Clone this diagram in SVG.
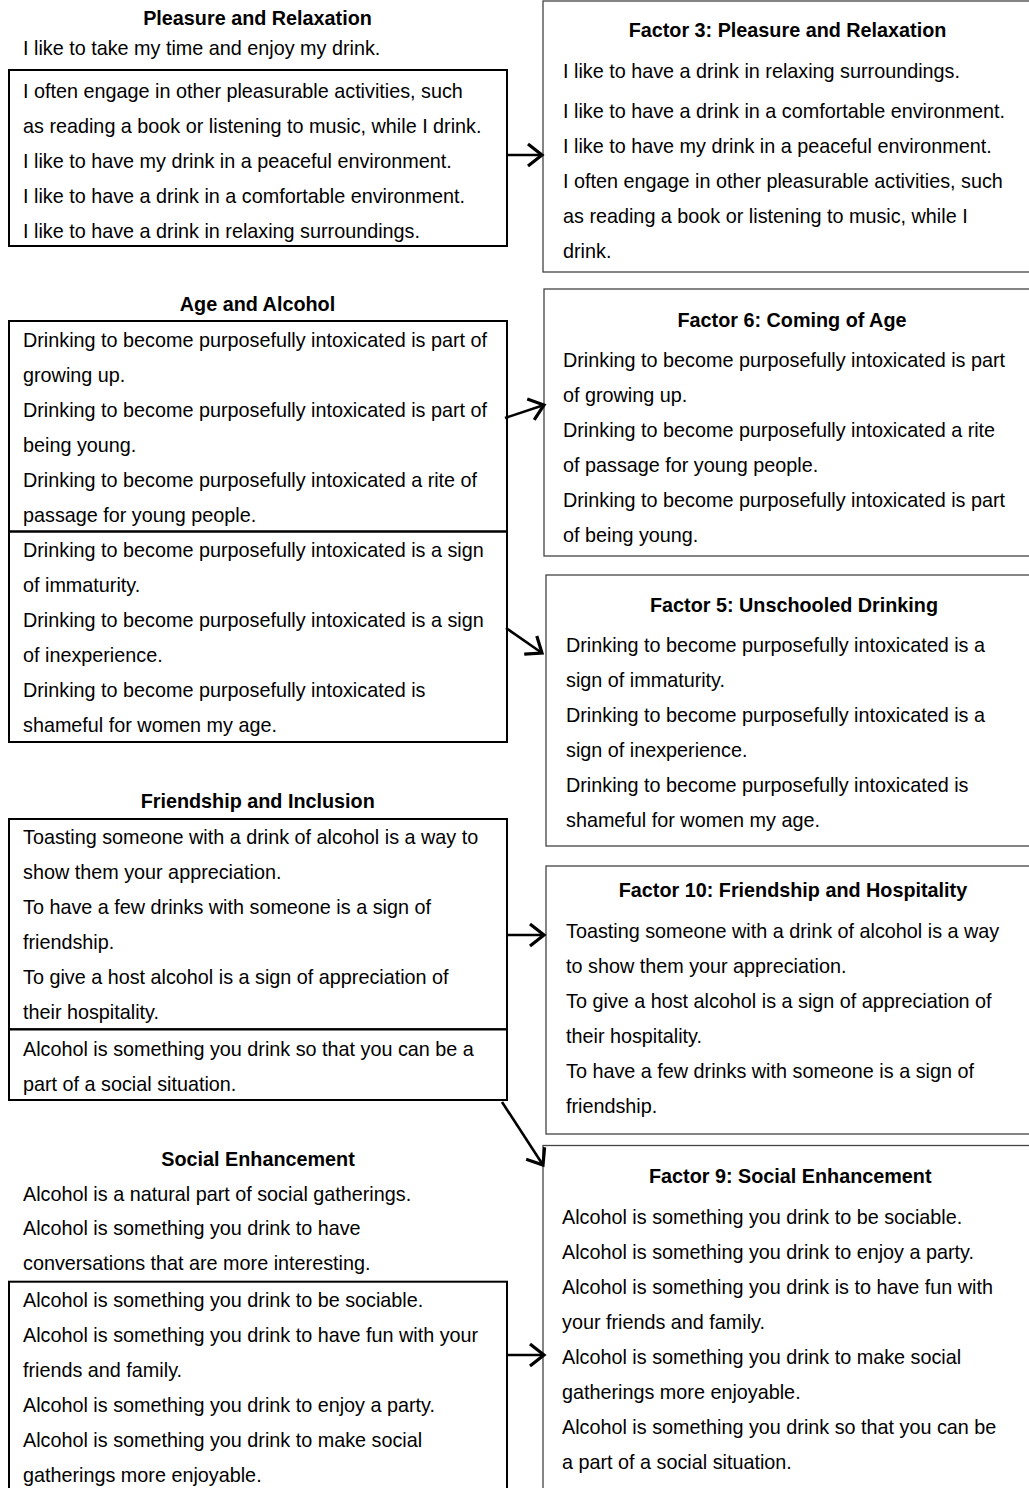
<svg xmlns="http://www.w3.org/2000/svg" width="1029" height="1488" viewBox="0 0 1029 1488">
<style>
text{font-family:"Liberation Sans",Arial,sans-serif;font-size:19.8px;fill:#000}
.t{font-weight:bold;text-anchor:middle}
.lb{fill:none;stroke:#000;stroke-width:2}
.rb{fill:none;stroke:#444;stroke-width:1.3}
.c{fill:none;stroke:#000;stroke-width:2.6}
</style>
<defs>
<marker id="ah" markerUnits="userSpaceOnUse" viewBox="0 0 20 26" markerWidth="20" markerHeight="26" refX="17" refY="13" orient="auto">
<path d="M3,2 L17,13 L3,24" fill="none" stroke="#000" stroke-width="3.2" stroke-linejoin="miter"/>
</marker>
</defs>
<rect width="1029" height="1488" fill="#fff"/>

<g id="pleasure-relaxation">
<text class="t" x="257.5" y="25">Pleasure and Relaxation</text>
<text x="23" y="54.5">I like to take my time and enjoy my drink.</text>
<rect class="lb" x="9" y="70" width="498" height="176"/>
<text x="23" y="97.5">I often engage in other pleasurable activities, such</text>
<text x="23" y="132.5">as reading a book or listening to music, while I drink.</text>
<text x="23" y="167.5">I like to have my drink in a peaceful environment.</text>
<text x="23" y="202.5">I like to have a drink in a comfortable environment.</text>
<text x="23" y="237.5">I like to have a drink in relaxing surroundings.</text>
</g>

<g id="factor3">
<rect class="rb" x="543" y="1" width="500" height="271"/>
<text class="t" x="787.5" y="36.5">Factor 3: Pleasure and Relaxation</text>
<text x="563" y="78">I like to have a drink in relaxing surroundings.</text>
<text x="563" y="118">I like to have a drink in a comfortable environment.</text>
<text x="563" y="153">I like to have my drink in a peaceful environment.</text>
<text x="563" y="188">I often engage in other pleasurable activities, such</text>
<text x="563" y="223">as reading a book or listening to music, while I</text>
<text x="563" y="258">drink.</text>
</g>

<g id="age-alcohol">
<text class="t" x="257.5" y="310.7">Age and Alcohol</text>
<rect class="lb" x="9" y="321" width="498" height="210.5"/>
<rect class="lb" x="9" y="531.5" width="498" height="210.5"/>
<text x="23" y="347.3">Drinking to become purposefully intoxicated is part of</text>
<text x="23" y="382.3">growing up.</text>
<text x="23" y="417.3">Drinking to become purposefully intoxicated is part of</text>
<text x="23" y="452.3">being young.</text>
<text x="23" y="487.3">Drinking to become purposefully intoxicated a rite of</text>
<text x="23" y="522.3">passage for young people.</text>
<text x="23" y="557.3">Drinking to become purposefully intoxicated is a sign</text>
<text x="23" y="592.3">of immaturity.</text>
<text x="23" y="627.3">Drinking to become purposefully intoxicated is a sign</text>
<text x="23" y="662.3">of inexperience.</text>
<text x="23" y="697.3">Drinking to become purposefully intoxicated is</text>
<text x="23" y="732.3">shameful for women my age.</text>
</g>

<g id="factor6">
<rect class="rb" x="544" y="289" width="500" height="267"/>
<text class="t" x="792" y="326.7">Factor 6: Coming of Age</text>
<text x="563" y="367.3">Drinking to become purposefully intoxicated is part</text>
<text x="563" y="402.3">of growing up.</text>
<text x="563" y="437.3">Drinking to become purposefully intoxicated a rite</text>
<text x="563" y="472.3">of passage for young people.</text>
<text x="563" y="507.3">Drinking to become purposefully intoxicated is part</text>
<text x="563" y="542.3">of being young.</text>
</g>

<g id="factor5">
<rect class="rb" x="546" y="575" width="500" height="271"/>
<text class="t" x="794" y="611.7">Factor 5: Unschooled Drinking</text>
<text x="566" y="652.3">Drinking to become purposefully intoxicated is a</text>
<text x="566" y="687.3">sign of immaturity.</text>
<text x="566" y="722.3">Drinking to become purposefully intoxicated is a</text>
<text x="566" y="757.3">sign of inexperience.</text>
<text x="566" y="792.3">Drinking to become purposefully intoxicated is</text>
<text x="566" y="827.3">shameful for women my age.</text>
</g>

<g id="friendship-inclusion">
<text class="t" x="257.7" y="807.7">Friendship and Inclusion</text>
<rect class="lb" x="9" y="819" width="498" height="210.3"/>
<rect class="lb" x="9" y="1029.3" width="498" height="70.7"/>
<text x="23" y="844">Toasting someone with a drink of alcohol is a way to</text>
<text x="23" y="879">show them your appreciation.</text>
<text x="23" y="914">To have a few drinks with someone is a sign of</text>
<text x="23" y="949">friendship.</text>
<text x="23" y="984">To give a host alcohol is a sign of appreciation of</text>
<text x="23" y="1019">their hospitality.</text>
<text x="23" y="1055.7">Alcohol is something you drink so that you can be a</text>
<text x="23" y="1090.7">part of a social situation.</text>
</g>

<g id="factor10">
<rect class="rb" x="546" y="866" width="500" height="268"/>
<text class="t" x="793" y="897">Factor 10: Friendship and Hospitality</text>
<text x="566" y="938">Toasting someone with a drink of alcohol is a way</text>
<text x="566" y="973">to show them your appreciation.</text>
<text x="566" y="1008">To give a host alcohol is a sign of appreciation of</text>
<text x="566" y="1043">their hospitality.</text>
<text x="566" y="1078">To have a few drinks with someone is a sign of</text>
<text x="566" y="1113">friendship.</text>
</g>

<g id="social-enhancement">
<text class="t" x="258" y="1166">Social Enhancement</text>
<text x="23" y="1200.5">Alcohol is a natural part of social gatherings.</text>
<text x="23" y="1235">Alcohol is something you drink to have</text>
<text x="23" y="1270">conversations that are more interesting.</text>
<rect class="lb" x="9" y="1281.7" width="498" height="230"/>
<text x="23" y="1306.7">Alcohol is something you drink to be sociable.</text>
<text x="23" y="1341.7">Alcohol is something you drink to have fun with your</text>
<text x="23" y="1376.7">friends and family.</text>
<text x="23" y="1411.7">Alcohol is something you drink to enjoy a party.</text>
<text x="23" y="1446.7">Alcohol is something you drink to make social</text>
<text x="23" y="1481.7">gatherings more enjoyable.</text>
</g>

<g id="factor9">
<rect class="rb" x="543" y="1145.5" width="500" height="360"/>
<text class="t" x="790.3" y="1183.3">Factor 9: Social Enhancement</text>
<text x="562" y="1224">Alcohol is something you drink to be sociable.</text>
<text x="562" y="1259">Alcohol is something you drink to enjoy a party.</text>
<text x="562" y="1294">Alcohol is something you drink is to have fun with</text>
<text x="562" y="1329">your friends and family.</text>
<text x="562" y="1364">Alcohol is something you drink to make social</text>
<text x="562" y="1399">gatherings more enjoyable.</text>
<text x="562" y="1434">Alcohol is something you drink so that you can be</text>
<text x="562" y="1469">a part of a social situation.</text>
</g>

<g id="connectors">
<line class="c" x1="508" y1="155" x2="542" y2="155" marker-end="url(#ah)"/>
<line class="c" x1="505" y1="418" x2="544" y2="405" marker-end="url(#ah)"/>
<line class="c" x1="506" y1="628" x2="542" y2="653" marker-end="url(#ah)"/>
<line class="c" x1="508" y1="935" x2="544" y2="935" marker-end="url(#ah)"/>
<line class="c" x1="502" y1="1102" x2="543" y2="1165" marker-end="url(#ah)"/>
<line class="c" x1="508" y1="1355" x2="544" y2="1355" marker-end="url(#ah)"/>
</g>
</svg>
